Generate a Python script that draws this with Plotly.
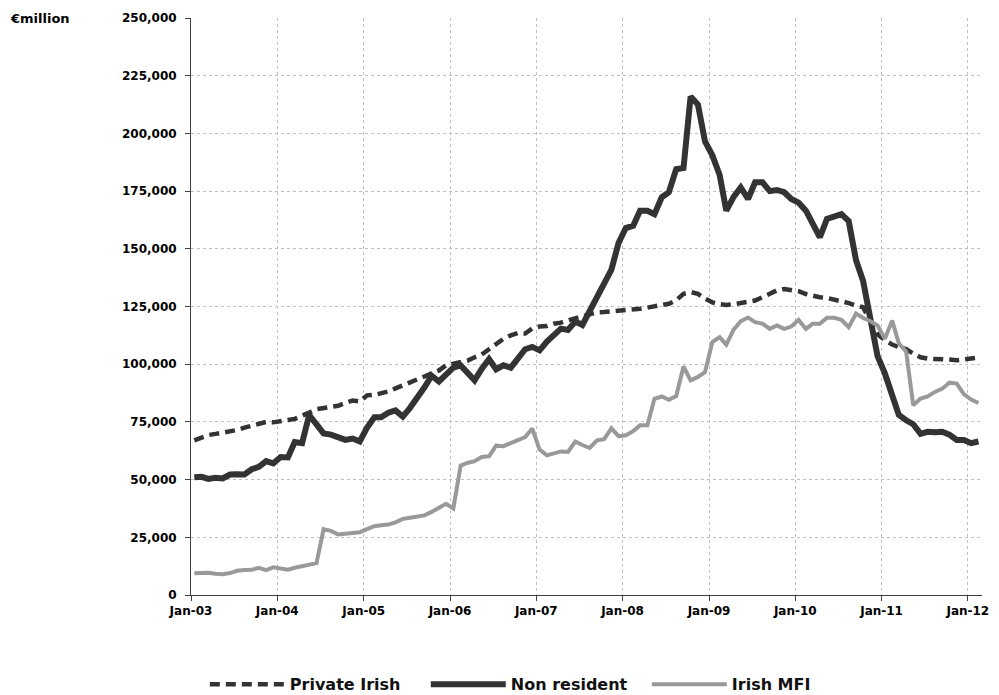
import pandas as pd
import plotly.graph_objects as go

# Monthly series, € billion (converted to € million below), Jan-03 .. Feb-12
start_month = "2003-01-01"
n_months = 110

private_irish = [
    67.0, 68.3, 69.3, 69.8, 70.3, 70.8, 71.5, 72.5, 73.5, 74.0, 75.0, 74.8,
    75.5, 75.8, 76.3, 77.5, 79.0, 80.5, 81.0, 81.3, 82.0, 83.2, 84.3, 83.8,
    86.5, 86.7, 87.3, 88.2, 89.5, 90.8, 91.8, 93.0, 94.4, 95.8, 97.3, 99.5,
    100.2, 100.5, 101.5, 103.0, 104.2, 106.5, 109.0, 111.0, 112.5, 113.5, 113.3, 115.5,
    116.3, 116.5, 117.5, 118.0, 119.0, 120.0, 121.0, 122.0, 122.5, 122.6, 122.8, 123.3,
    123.3, 123.6, 124.0, 124.5, 125.0, 125.5, 126.2, 127.7, 130.5, 131.3, 130.5, 128.4,
    126.8, 126.0, 125.7, 126.0, 126.5, 126.8, 127.6, 129.0, 130.5, 132.0, 132.6, 132.0,
    131.6, 130.4, 129.5, 129.0, 128.7, 128.0, 127.5, 126.5, 125.4, 124.7, 118.5, 113.0,
    110.5, 108.5, 107.4, 106.5, 104.6, 103.0, 102.4, 102.4, 102.4, 102.0, 101.7, 102.0,
    102.5, 102.9,
]

non_resident = [
    51.0, 51.2, 50.3, 50.8, 50.5, 52.2, 52.3, 52.2, 54.5, 55.5, 58.0, 57.0,
    59.8, 59.6, 66.3, 65.8, 78.0, 74.0, 70.0, 69.5, 68.3, 67.2, 67.8, 66.5,
    72.5, 77.0, 77.0, 79.0, 80.0, 77.3, 81.0, 85.0, 90.0, 95.0, 92.5, 95.5,
    98.5, 99.5, 96.5, 93.0, 98.0, 102.2, 97.8, 99.5, 98.5, 102.5, 106.5, 107.5,
    106.0, 109.8, 112.5, 115.4, 114.8, 118.5, 117.0, 123.0, 129.0, 134.5, 141.0, 152.5,
    159.0, 160.0, 166.5, 166.5, 165.0, 172.3, 174.5, 184.5, 185.0, 216.0, 212.5, 196.5,
    190.5, 182.0, 166.5, 172.5, 176.6, 171.6, 178.8, 178.8, 175.0, 175.5, 174.5, 171.6,
    170.0, 166.5, 160.8, 155.0, 163.0, 164.0, 165.0, 162.0, 145.0, 136.0, 119.0, 103.5,
    96.0, 86.0, 78.0, 75.7, 74.0, 69.8, 70.7, 70.5, 70.7, 69.5, 67.2, 67.2,
    65.8, 66.5,
]

irish_mfi = [
    9.4, 9.7, 9.6, 9.2, 9.0, 9.5, 10.5, 10.8, 10.9, 11.8, 10.8, 12.0,
    11.5, 11.0, 11.8, 12.5, 13.2, 13.8, 28.5, 27.8, 26.2, 26.5, 26.8, 27.2,
    28.5, 29.8, 30.2, 30.5, 31.5, 33.0, 33.5, 34.2, 34.5, 36.0, 38.0, 39.5,
    37.5, 56.0, 57.2, 58.0, 59.8, 60.1, 64.7, 64.5, 65.8, 67.2, 68.4, 72.1,
    63.0, 60.5, 61.5, 62.2, 62.0, 66.5, 65.0, 63.7, 67.0, 67.5, 72.2, 68.8,
    69.2, 71.0, 73.5, 73.5, 85.0, 86.0, 84.6, 86.2, 99.0, 93.0, 94.5, 96.6,
    109.6, 111.7, 108.5, 115.0, 118.6, 120.2, 118.2, 117.6, 115.3, 116.8, 115.3, 116.3,
    119.2, 115.3, 117.5, 117.5, 120.1, 120.1, 119.2, 116.0, 121.9, 120.0, 118.6, 116.8,
    111.0, 118.9, 109.0, 105.5, 82.2, 85.1, 86.0, 88.0, 89.4, 92.0, 91.6, 87.0,
    84.7, 83.2,
]

series_names = ["Private Irish", "Non resident", "Irish MFI"]
y_ticks = [0, 25000, 50000, 75000, 100000, 125000, 150000, 175000, 200000, 225000, 250000]
y_unit = "€million"

# plot each month in the middle of its month slot
months = pd.date_range(start_month, periods=n_months, freq="MS") + pd.Timedelta(days=14)

def to_million(vals):
    return [v * 1000 for v in vals]

FONT = "'DejaVu Sans', sans-serif"

fig = go.Figure()
fig.add_trace(go.Scatter(
    x=months, y=to_million(private_irish), name=series_names[0], mode="lines",
    line=dict(color="#333333", width=4.5, dash="10px,6px"),
))
fig.add_trace(go.Scatter(
    x=months, y=to_million(non_resident), name=series_names[1], mode="lines",
    line=dict(color="#333333", width=6),
))
fig.add_trace(go.Scatter(
    x=months, y=to_million(irish_mfi), name=series_names[2], mode="lines",
    line=dict(color="#999999", width=4),
))

fig.update_layout(
    width=999, height=695,
    margin=dict(l=183, r=25, t=10, b=108, autoexpand=False),
    paper_bgcolor="white", plot_bgcolor="white",
    font=dict(family=FONT, size=12, color="black"),
    showlegend=True,
    legend=dict(
        orientation="h", xref="container", yref="container",
        x=0.197, xanchor="left", y=0.027, yanchor="middle",
        font=dict(family=FONT, size=16, color="#111111", weight="bold"),
        itemwidth=75, tracegroupgap=0,
        entrywidth=131, entrywidthmode="pixels",
    ),
    annotations=[dict(
        text="<b>" + y_unit + "</b>", xref="paper", yref="paper",
        x=-0.2314, y=1.0, xanchor="left", yanchor="middle", showarrow=False,
        font=dict(family=FONT, size=13, color="black"),
    )],
)

fig.update_xaxes(
    type="date", range=["2003-01-01", "2012-03-01"],
    tick0="2003-01-01", dtick="M12", tickformat="%b-%y",
    ticks="outside", ticklen=5, tickcolor="#404040",
    showline=True, linecolor="#404040", linewidth=1,
    showgrid=True, gridcolor="#bfbfbf", griddash="dot", gridwidth=1,
    tickfont=dict(family=FONT, size=12, color="black", weight="bold"),
    zeroline=False, automargin=False,
)
fig.update_yaxes(
    range=[0, 250000], tickvals=y_ticks, tickformat=",",
    ticks="outside", ticklen=5, tickcolor="#404040",
    showline=True, linecolor="#404040", linewidth=1,
    showgrid=True, gridcolor="#bfbfbf", griddash="dot", gridwidth=1,
    tickfont=dict(family=FONT, size=12, color="black", weight="bold"),
    ticklabelstandoff=6, zeroline=False, automargin=False,
)

fig.write_html("out.html")
